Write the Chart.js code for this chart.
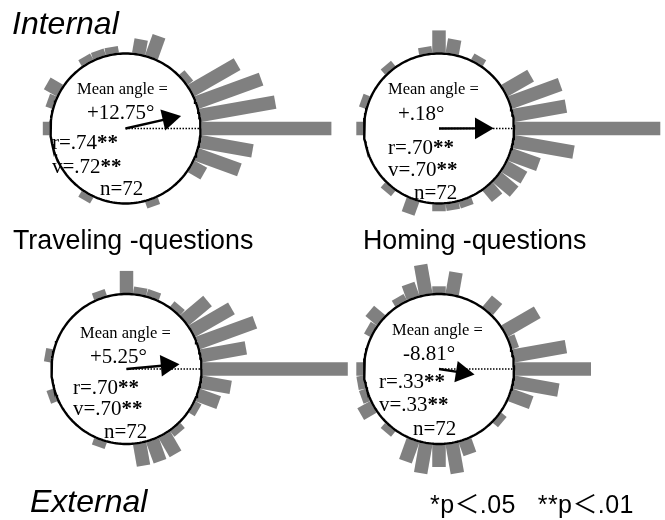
<!DOCTYPE html>
<html>
<head>
<meta charset="utf-8">
<script src="https://cdn.jsdelivr.net/npm/chart.js@4.4.1/dist/chart.umd.min.js"></script>
<style>
html,body{margin:0;padding:0;background:#fff;}
#wrap{position:relative;width:665px;height:520px;overflow:hidden;background:#fff;}
#wrap canvas{position:absolute;left:0;top:0;}
.t{position:absolute;white-space:pre;line-height:1;color:#000;}
.sans{font-family:"Liberation Sans",Arial,"Noto Sans CJK JP",sans-serif;}
.serif{font-family:"Liberation Serif","Times New Roman",serif;}
</style>
</head>
<body>
<div id="wrap"></div>
<script>
// ---------------- DATA ----------------
// direction bins (degrees, counter-clockwise from the goal direction at 0°)
const binAngles = [0,10,20,30,40,50,60,70,80,90,100,110,120,130,140,150,160,170,
                   180,190,200,210,220,230,240,250,260,270,280,290,300,310,320,330,340,350];

const panelTitles = ["Internal / Traveling", "Internal / Homing", "External / Traveling", "External / Homing"];

// counts per bin
const countsInternalTraveling = [17,10,9,7,1,0,0,3,2,0,1,1,1,0,0,2,1,0,
                                 1,0,0,0,0,0,1,0,0,0,0,1,0,0,0,2,6,7];
const countsInternalHoming    = [19,7,7,4,0,0,1,0,2,3,1,0,0,1,0,0,1,0,
                                 1,0,0,0,0,1,0,2,0,1,1,1,0,2,3,3,4,8];
const countsExternalTraveling = [19,6,8,6,4,1,0,1,1,3,0,1,0,0,0,0,0,1,
                                 0,0,1,0,0,0,0,1,0,0,3,3,3,1,0,1,3,4];
const countsExternalHoming    = [10,7,1,5,0,2,0,0,3,1,4,2,1,0,2,1,0,0,
                                 1,1,1,2,0,1,0,3,4,3,4,2,0,0,1,0,3,6];

const meanAngles      = [12.75, 0.18, 5.25, -8.81];
const meanAngleLabels = ["+12.75°", "+.18°", "+5.25°", "-8.81°"];
const rLabels         = [".74", ".70", ".70", ".33"];
const vLabels         = [".72", ".70", ".70", ".33"];
const nValues         = [72, 72, 72, 72];
// drawn length of the mean vector, as a fraction of the circle radius
const vectorLengths   = [0.76, 0.73, 0.71, 0.48];

const allCounts = [countsInternalTraveling, countsInternalHoming, countsExternalTraveling, countsExternalHoming];

// ---------------- STYLE / LAYOUT ----------------
const W = 665, H = 520;
const CIRCLE_R = 75;      // px
const COUNT_PX = 7.7;     // px per count
const BAR_W = 13.5;       // px
const HEAD_R = 12.5;      // arrow head size
const BAR_COLOR = '#808080';

const layout = [
  {cx:125.5, cy:128.5, txt:{mean:[77,94.5], ang:[87,120], r:[52,150], v:[52,174], n:[100,196]}},
  {cx:439,   cy:128.5, txt:{mean:[388,95],  ang:[398,121], r:[388,154.5], v:[388,177], n:[414,200]}},
  {cx:126.5, cy:369,   txt:{mean:[80,338.5], ang:[90,363.5], r:[73,395], v:[73,416], n:[104,438.5]}},
  {cx:439,   cy:369,   txt:{mean:[392,336], ang:[403,361], r:[379,388.5], v:[379,412], n:[413,436]}}
];

const wrap = document.getElementById('wrap');

function addText(html, cls, x, baseline, size, extra) {
  const d = document.createElement('div');
  d.className = 't ' + cls;
  const k = cls === 'serif' ? 0.8375 : 0.8465;
  d.style.left = x + 'px';
  d.style.top = (baseline - k * size) + 'px';
  d.style.fontSize = size + 'px';
  if (extra) d.style.cssText += extra;
  d.innerHTML = html;
  wrap.appendChild(d);
}

function makePanel(i) {
  const p = layout[i];
  const counts = allCounts[i];
  const canvas = document.createElement('canvas');
  canvas.width = W; canvas.height = H;
  canvas.style.width = W + 'px'; canvas.style.height = H + 'px';
  wrap.appendChild(canvas);

  const datasets = [];
  const th = meanAngles[i] * Math.PI / 180;
  const tip = vectorLengths[i] * CIRCLE_R;
  const end = tip - HEAD_R;
  // mean vector arrow
  datasets.push({
    label: 'mean vector',
    data: [{x:0, y:0}, {x:end*Math.cos(th), y:end*Math.sin(th)}],
    showLine: true, borderColor:'#000', borderWidth:2.4,
    pointRadius:[0, HEAD_R], pointHoverRadius:[0, HEAD_R], pointStyle:'triangle', rotation:[0, 90 - meanAngles[i]],
    pointBackgroundColor:'#000', pointBorderColor:'#000', pointBorderWidth:0
  });
  // dotted reference line (0°)
  datasets.push({
    label: 'reference',
    data: [{x:0, y:0}, {x:CIRCLE_R, y:0}],
    showLine: true, borderColor:'#000', borderWidth:1.3, borderDash:[1.5,1.5], pointRadius:0
  });
  // circle
  const pts = [];
  for (let k = 0; k <= 180; k++) {
    const a = k * 2 * Math.PI / 180;
    pts.push({x: CIRCLE_R*Math.cos(a), y: CIRCLE_R*Math.sin(a)});
  }
  datasets.push({label:'circle', data:pts, showLine:true, borderColor:'#000', borderWidth:2.4, pointRadius:0, tension:0});
  // bars
  counts.forEach((c, k) => {
    if (!c) return;
    const a = binAngles[k] * Math.PI / 180;
    const r0 = CIRCLE_R + 1, r1 = CIRCLE_R + c * COUNT_PX;
    datasets.push({
      label: binAngles[k] + '°',
      data: [{x:r0*Math.cos(a), y:r0*Math.sin(a)}, {x:r1*Math.cos(a), y:r1*Math.sin(a)}],
      showLine: true, borderColor: BAR_COLOR, borderWidth: BAR_W, borderCapStyle:'butt', pointRadius:0
    });
  });

  new Chart(canvas, {
    type: 'scatter',
    data: {datasets},
    options: {
      responsive:false, animation:false, events:[],
      layout:{padding:0, autoPadding:false},
      plugins:{legend:{display:false}, tooltip:{enabled:false}, title:{display:false}},
      scales:{
        x:{type:'linear', display:false, bounds:'data', min:-p.cx, max:W - p.cx},
        y:{type:'linear', display:false, bounds:'data', min:-(H - p.cy), max:p.cy}
      }
    }
  });

  const t = p.txt;
  addText('Mean angle =', 'serif', t.mean[0], t.mean[1], 16.5);
  addText(meanAngleLabels[i], 'serif', t.ang[0], t.ang[1], 21);
  addText('r=' + rLabels[i] + '<b>**</b>', 'serif', t.r[0], t.r[1], 21);
  addText('v=' + vLabels[i] + '<b>**</b>', 'serif', t.v[0], t.v[1], 21);
  addText('n=' + nValues[i], 'serif', t.n[0], t.n[1], 21);
}

for (let i = 0; i < 4; i++) makePanel(i);

// labels
addText('Internal', 'sans', 12, 34, 32, 'font-style:italic;');
addText('Traveling -questions', 'sans', 13, 250, 26.8);
addText('Homing -questions', 'sans', 363, 250, 26.8);
addText('External', 'sans', 30, 512, 32, 'font-style:italic;');
addText('*p＜.05   **p＜.01', 'sans', 430, 513, 25, 'letter-spacing:0.4px;');
</script>
</body>
</html>
